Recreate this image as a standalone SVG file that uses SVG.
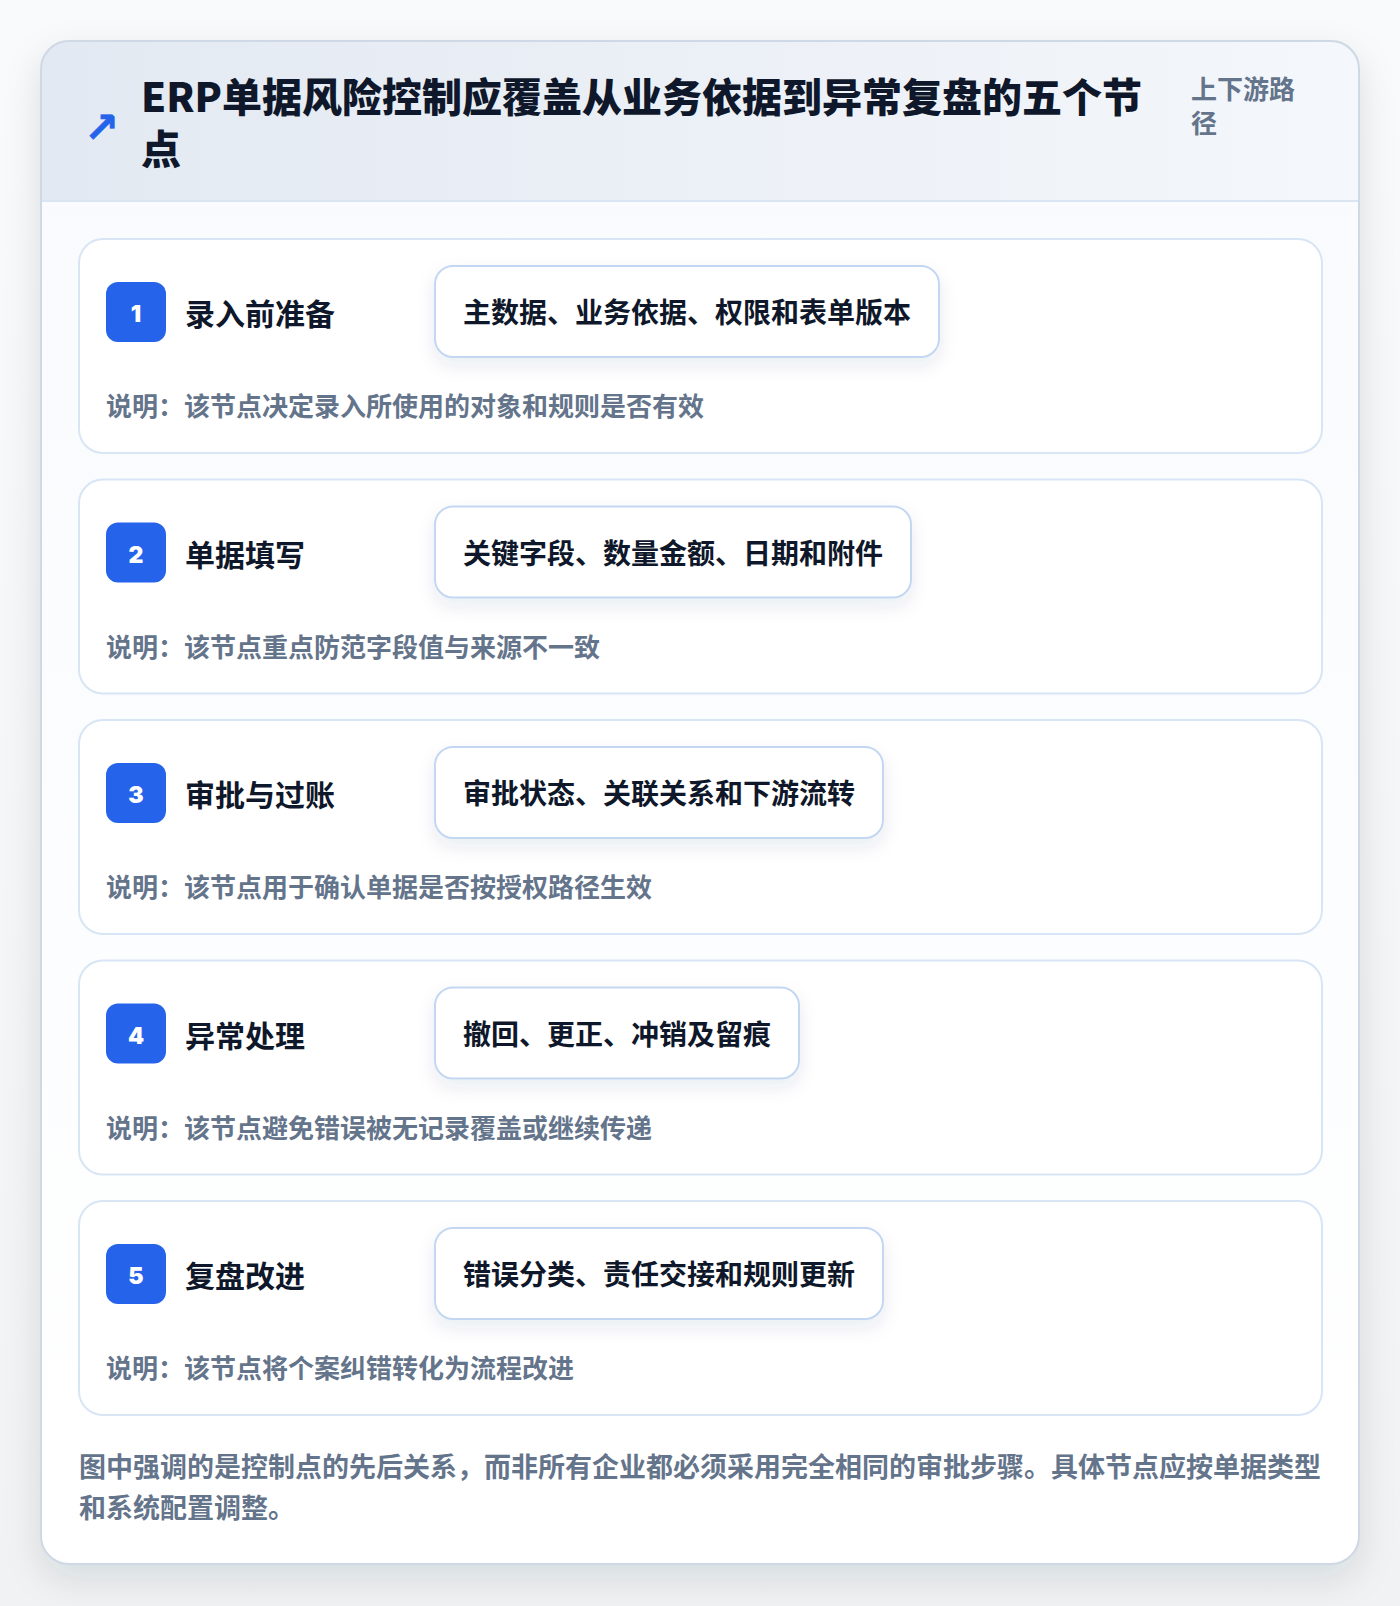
<svg xmlns="http://www.w3.org/2000/svg" width="1400" height="1606" viewBox="0 0 1400 1606">
<defs>
<style>
.cjk{font-family:"Noto Sans CJK SC","Noto Sans",sans-serif;font-weight:700}
.title{font-size:40px;fill:#0f172a;font-weight:900}
.sub{font-size:26px;fill:#64748b}
.step{font-size:30px;fill:#0f172a}
.pilltxt{font-size:28px;fill:#0f172a}
.desc{font-size:26px;fill:#64748b}
.foot{font-size:27px;fill:#64748b}
.num{font-family:Inter,"Noto Sans",sans-serif;font-weight:900;font-size:23px;fill:#ffffff}
.card{fill:#ffffff;stroke:#d8e5f5;stroke-width:2}
.badge{fill:#2563eb}
.pill{fill:#ffffff;stroke:#c3d7f2;stroke-width:2}
</style>
<linearGradient id="hdr" x1="0" y1="0" x2="1" y2="0">
<stop offset="0" stop-color="#e3e9f2"/>
<stop offset="1" stop-color="#f4f7fb"/>
</linearGradient>
<linearGradient id="body" x1="0" y1="0" x2="0" y2="1">
<stop offset="0" stop-color="#f8fafd"/>
<stop offset="1" stop-color="#ffffff"/>
</linearGradient>
<linearGradient id="bg" x1="0" y1="0" x2="0" y2="1">
<stop offset="0" stop-color="#f9fafb"/>
<stop offset="1" stop-color="#f1f2f4"/>
</linearGradient>
<clipPath id="cardclip"><rect x="41" y="41" width="1318" height="1523" rx="28"/></clipPath>
<filter id="outerShadow" x="-10%" y="-10%" width="120%" height="120%">
<feDropShadow dx="0" dy="14" stdDeviation="18" flood-color="#1e293b" flood-opacity="0.12"/>
</filter>
<filter id="pillShadow" x="-20%" y="-30%" width="140%" height="180%">
<feDropShadow dx="0" dy="8" stdDeviation="9" flood-color="#1e3a5f" flood-opacity="0.09"/>
</filter>
</defs>
<rect x="0" y="0" width="1400" height="1606" fill="url(#bg)"/>
<g id="frame">
<rect x="41" y="41" width="1318" height="1523" rx="28" fill="url(#body)" filter="url(#outerShadow)"/>
<g clip-path="url(#cardclip)">
<rect x="41" y="41" width="1318" height="160" fill="url(#hdr)"/>
<line x1="41" y1="201" x2="1359" y2="201" stroke="#d9e5f3" stroke-width="2"/>
</g>
<rect x="41" y="41" width="1318" height="1523" rx="28" fill="none" stroke="#cfd8e5" stroke-width="2"/>
</g>
<g id="header">
<text x="84" y="142" font-family="DejaVu Sans,sans-serif" font-weight="700" font-size="42" fill="#2563eb" stroke="#2563eb" stroke-width="0.6">↗</text>
<text class="cjk title"><tspan x="141" y="112">ERP单据风险控制应覆盖从业务依据到异常复盘的五个节</tspan><tspan x="141" y="164">点</tspan></text>
<text class="cjk sub"><tspan x="1191" y="99">上下游路</tspan><tspan x="1191" y="133">径</tspan></text>
</g>
<g id="connectors"></g>
<g id="node1">
<rect class="card" x="79" y="239" width="1243" height="214" rx="24"/>
<rect class="badge" x="106" y="282" width="60" height="60" rx="12"/>
<text class="num" x="136" y="322" text-anchor="middle">1</text>
<text class="cjk step" x="185" y="325">录入前准备</text>
<rect class="pill" x="435" y="266" width="504" height="91" rx="18" filter="url(#pillShadow)"/>
<text class="cjk pilltxt" x="463" y="323">主数据、业务依据、权限和表单版本</text>
<text class="cjk desc" x="106" y="416">说明：该节点决定录入所使用的对象和规则是否有效</text>
</g>
<g id="node2" transform="translate(0,240.5)">
<rect class="card" x="79" y="239" width="1243" height="214" rx="24"/>
<rect class="badge" x="106" y="282" width="60" height="60" rx="12"/>
<text class="num" x="136" y="322" text-anchor="middle">2</text>
<text class="cjk step" x="185" y="325">单据填写</text>
<rect class="pill" x="435" y="266" width="476" height="91" rx="18" filter="url(#pillShadow)"/>
<text class="cjk pilltxt" x="463" y="323">关键字段、数量金额、日期和附件</text>
<text class="cjk desc" x="106" y="416">说明：该节点重点防范字段值与来源不一致</text>
</g>
<g id="node3" transform="translate(0,481)">
<rect class="card" x="79" y="239" width="1243" height="214" rx="24"/>
<rect class="badge" x="106" y="282" width="60" height="60" rx="12"/>
<text class="num" x="136" y="322" text-anchor="middle">3</text>
<text class="cjk step" x="185" y="325">审批与过账</text>
<rect class="pill" x="435" y="266" width="448" height="91" rx="18" filter="url(#pillShadow)"/>
<text class="cjk pilltxt" x="463" y="323">审批状态、关联关系和下游流转</text>
<text class="cjk desc" x="106" y="416">说明：该节点用于确认单据是否按授权路径生效</text>
</g>
<g id="node4" transform="translate(0,721.5)">
<rect class="card" x="79" y="239" width="1243" height="214" rx="24"/>
<rect class="badge" x="106" y="282" width="60" height="60" rx="12"/>
<text class="num" x="136" y="322" text-anchor="middle">4</text>
<text class="cjk step" x="185" y="325">异常处理</text>
<rect class="pill" x="435" y="266" width="364" height="91" rx="18" filter="url(#pillShadow)"/>
<text class="cjk pilltxt" x="463" y="323">撤回、更正、冲销及留痕</text>
<text class="cjk desc" x="106" y="416">说明：该节点避免错误被无记录覆盖或继续传递</text>
</g>
<g id="node5" transform="translate(0,962)">
<rect class="card" x="79" y="239" width="1243" height="214" rx="24"/>
<rect class="badge" x="106" y="282" width="60" height="60" rx="12"/>
<text class="num" x="136" y="322" text-anchor="middle">5</text>
<text class="cjk step" x="185" y="325">复盘改进</text>
<rect class="pill" x="435" y="266" width="448" height="91" rx="18" filter="url(#pillShadow)"/>
<text class="cjk pilltxt" x="463" y="323">错误分类、责任交接和规则更新</text>
<text class="cjk desc" x="106" y="416">说明：该节点将个案纠错转化为流程改进</text>
</g>
<g id="footer">
<text class="cjk foot"><tspan x="79" y="1477">图中强调的是控制点的先后关系，而非所有企业都必须采用完全相同的审批步骤。具体节点应按单据类型</tspan><tspan x="79" y="1518">和系统配置调整。</tspan></text>
</g>
</svg>
